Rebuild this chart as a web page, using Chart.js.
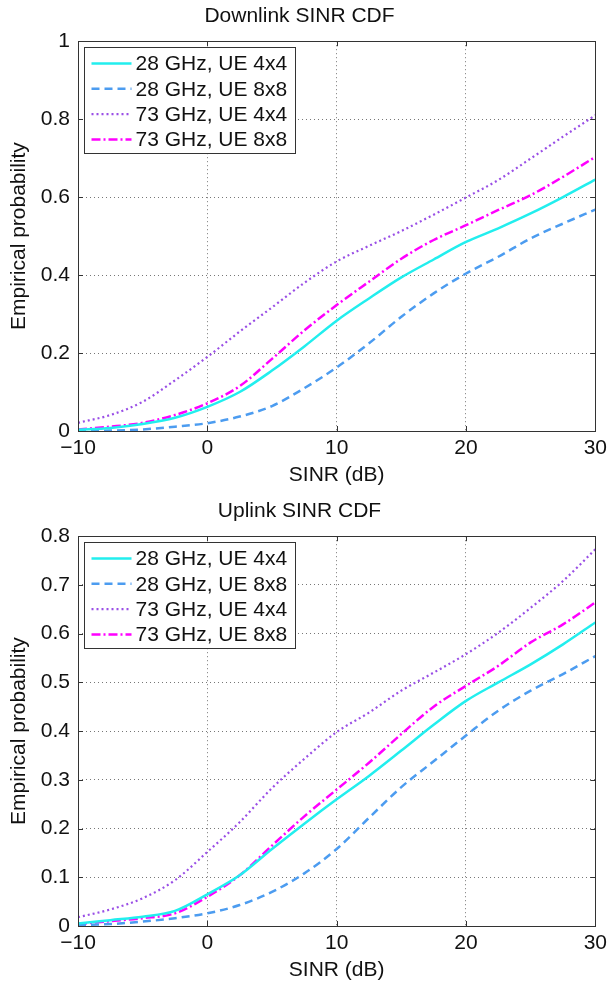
<!DOCTYPE html>
<html>
<head>
<meta charset="utf-8">
<script src="https://cdn.jsdelivr.net/npm/chart.js@4"></script>
<style>
  body { margin: 0; background: #fff; }
  .wrap { position: absolute; left: 0; width: 612px; height: 488px; }
</style>
</head>
<body>
<div class="wrap" style="top:0"><canvas id="dl" width="612" height="488"></canvas></div>
<div class="wrap" style="top:495px"><canvas id="ul" width="612" height="488"></canvas></div>
<script>
// SINR sample points (dB)
const sinr = [-10, -7.5, -5, -2.5, 0, 2.5, 5, 7.5, 10, 12.5, 15, 17.5, 20, 22.5, 25, 27.5, 30];

// downlink CDF values
const dl28x4 = [0.003, 0.008, 0.018, 0.034, 0.062, 0.10, 0.155, 0.217, 0.283, 0.34, 0.394, 0.44, 0.485, 0.52, 0.558, 0.60, 0.645];
const dl28x8 = [0.0, 0.001, 0.004, 0.011, 0.02, 0.037, 0.064, 0.11, 0.163, 0.225, 0.293, 0.353, 0.404, 0.447, 0.494, 0.532, 0.568];
const dl73x4 = [0.021, 0.041, 0.075, 0.13, 0.19, 0.255, 0.317, 0.38, 0.435, 0.475, 0.513, 0.555, 0.599, 0.644, 0.699, 0.755, 0.81];
const dl73x8 = [0.004, 0.011, 0.021, 0.041, 0.071, 0.115, 0.185, 0.258, 0.323, 0.383, 0.442, 0.49, 0.528, 0.567, 0.605, 0.652, 0.703];

// uplink CDF values
const ul28x4 = [0.005, 0.012, 0.019, 0.031, 0.065, 0.104, 0.158, 0.21, 0.26, 0.308, 0.36, 0.413, 0.462, 0.50, 0.537, 0.578, 0.623];
const ul28x8 = [0.002, 0.004, 0.009, 0.016, 0.026, 0.043, 0.07, 0.108, 0.158, 0.222, 0.285, 0.338, 0.391, 0.442, 0.483, 0.517, 0.554];
const ul73x4 = [0.018, 0.034, 0.057, 0.094, 0.152, 0.213, 0.283, 0.343, 0.398, 0.438, 0.483, 0.52, 0.558, 0.602, 0.653, 0.708, 0.773];
const ul73x8 = [0.004, 0.01, 0.016, 0.026, 0.06, 0.104, 0.165, 0.225, 0.28, 0.335, 0.394, 0.45, 0.493, 0.534, 0.582, 0.619, 0.664];

const labels = ['28 GHz, UE 4x4', '28 GHz, UE 8x8', '73 GHz, UE 4x4', '73 GHz, UE 8x8'];
const colors = ['#22eeee', '#4c9cf0', '#9a4fe6', '#ff00ff'];
const dashes = [[], [8, 5], [2, 3], [9, 3, 2, 3]];
const widths = [2.5, 2.5, 2.2, 2.5];

const FONT = '"Liberation Sans", Arial, sans-serif';

function fmt(v) {
  const s = String(parseFloat(v.toFixed(2)));
  return v < 0 ? '\u2212' + s.slice(1) : s;
}

// MATLAB-style box with inward tick marks
const frame = {
  id: 'frame',
  afterDatasetsDraw(chart) {
    const { ctx, chartArea: a, scales } = chart;
    ctx.save();
    ctx.strokeStyle = '#333';
    ctx.lineWidth = 1;
    ctx.beginPath();
    scales.x.ticks.forEach(t => {
      const px = Math.round(scales.x.getPixelForValue(t.value)) + 0.5;
      ctx.moveTo(px, a.bottom); ctx.lineTo(px, a.bottom - 5);
      ctx.moveTo(px, a.top); ctx.lineTo(px, a.top + 5);
    });
    scales.y.ticks.forEach(t => {
      const py = Math.round(scales.y.getPixelForValue(t.value)) + 0.5;
      ctx.moveTo(a.left, py); ctx.lineTo(a.left + 5, py);
      ctx.moveTo(a.right, py); ctx.lineTo(a.right - 5, py);
    });
    ctx.stroke();
    ctx.strokeRect(Math.round(a.left) + 0.5, Math.round(a.top) + 0.5,
      Math.round(a.right - a.left), Math.round(a.bottom - a.top));
    ctx.restore();
  }
};

// legend box inside the plot, upper left
const boxLegend = {
  id: 'boxLegend',
  afterDraw(chart) {
    const { ctx, chartArea: a } = chart;
    const x0 = Math.round(a.left) + 6.5, y0 = Math.round(a.top) + 6.5;
    ctx.save();
    ctx.fillStyle = '#fff';
    ctx.fillRect(x0, y0, 211, 106);
    ctx.strokeStyle = '#333';
    ctx.lineWidth = 1;
    ctx.strokeRect(x0, y0, 211, 106);
    ctx.font = '21px ' + FONT;
    ctx.textBaseline = 'middle';
    chart.data.datasets.forEach((ds, i) => {
      const y = y0 + 16 + i * 25.3;
      ctx.strokeStyle = ds.borderColor;
      ctx.lineWidth = ds.borderWidth;
      ctx.setLineDash(ds.borderDash);
      ctx.beginPath();
      ctx.moveTo(x0 + 7, y);
      ctx.lineTo(x0 + 47, y);
      ctx.stroke();
      ctx.setLineDash([]);
      ctx.fillStyle = '#111';
      ctx.fillText(ds.label, x0 + 51, y + 1);
    });
    ctx.restore();
  }
};

function makeChart(id, title, series, yMax, yStep) {
  const ctx = document.getElementById(id).getContext('2d');
  return new Chart(ctx, {
    type: 'line',
    data: {
      datasets: series.map((vals, i) => ({
        label: labels[i],
        data: sinr.map((x, j) => ({ x: x, y: vals[j] })),
        borderColor: colors[i],
        borderDash: dashes[i],
        borderWidth: widths[i],
        pointRadius: 0,
        cubicInterpolationMode: 'monotone',
        fill: false
      }))
    },
    options: {
      responsive: false,
      animation: false,
      layout: { padding: { left: 0, right: 13, top: 0, bottom: 0 } },
      plugins: {
        legend: { display: false },
        tooltip: { enabled: false },
        title: {
          display: true,
          text: title,
          color: '#111',
          font: { family: FONT, size: 21, weight: 'normal' },
          padding: { top: 4, bottom: 12 }
        }
      },
      scales: {
        x: {
          type: 'linear',
          min: -10,
          max: 30,
          afterFit: s => { s.height = 57; },
          ticks: { stepSize: 10, padding: 5, color: '#111', font: { family: FONT, size: 21 }, callback: fmt },
          grid: { color: '#777', drawTicks: false },
          border: { display: false, dash: [1, 3] },
          title: { display: true, text: 'SINR (dB)', color: '#111', font: { family: FONT, size: 21 }, padding: { top: 0, bottom: 0 } }
        },
        y: {
          min: 0,
          max: yMax,
          afterFit: s => { s.width = 78; },
          ticks: { stepSize: yStep, padding: 8, color: '#111', font: { family: FONT, size: 21 }, callback: fmt },
          grid: { color: '#777', drawTicks: false },
          border: { display: false, dash: [1, 3] },
          title: { display: true, text: 'Empirical probability', color: '#111', font: { family: FONT, size: 21 }, padding: { top: 7, bottom: 0 } }
        }
      }
    },
    plugins: [frame, boxLegend]
  });
}

makeChart('dl', 'Downlink SINR CDF', [dl28x4, dl28x8, dl73x4, dl73x8], 1, 0.2);
makeChart('ul', 'Uplink SINR CDF', [ul28x4, ul28x8, ul73x4, ul73x8], 0.8, 0.1);
</script>
</body>
</html>
